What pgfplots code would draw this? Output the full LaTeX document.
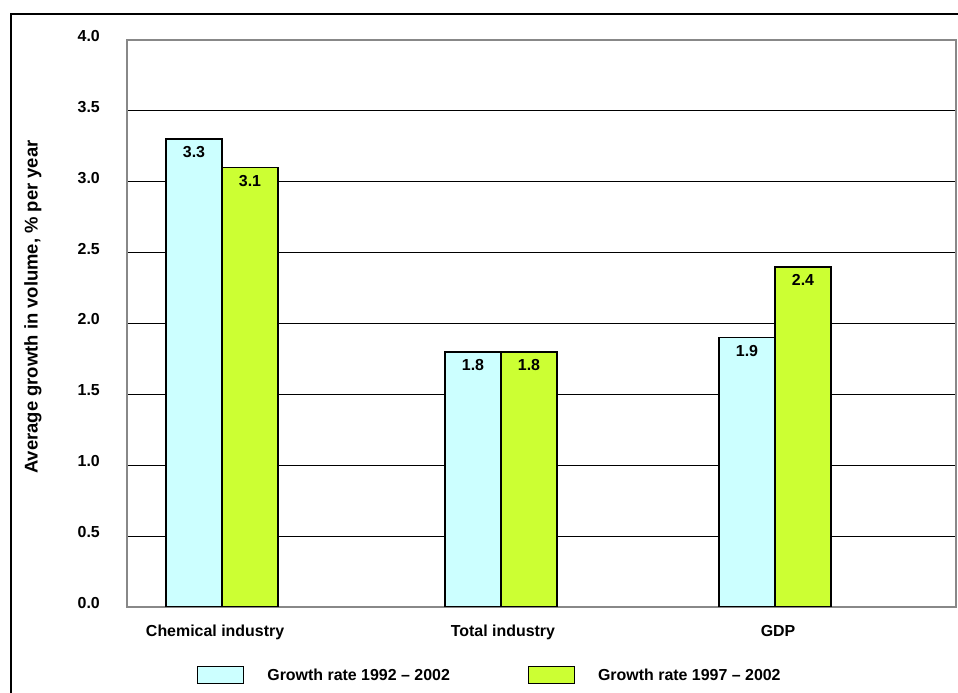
\documentclass[border=0pt]{standalone}
\usepackage{pgfplots}
\pgfplotsset{compat=1.18}
\usepackage{fontspec}
\setmainfont{Liberation Sans}
\definecolor{barcyan}{HTML}{CCFFFF}
\definecolor{bargreen}{HTML}{CCFF33}
\definecolor{framegrey}{HTML}{888888}

\begin{document}
\begin{tikzpicture}[x=1bp,y=1bp]
\useasboundingbox (-127,-86) rectangle (831,607);
\draw[line width=2bp] (-116,-140) rectangle (880,593);
\begin{axis}[
  at={(0,0)}, anchor=south west,
  scale only axis, width=829bp, height=567bp,
  xmin=-0.3436, xmax=2.6546, ymin=0, ymax=4,
  ytick={0,0.5,...,4},
  xtick={-0.025,1.016,2.011},
  xticklabels={Chemical industry,Total industry,GDP},
  major tick length=0pt,
  ymajorgrids,
  major grid style={black, line width=0.8bp},
  axis line style={framegrey, line width=2bp},
  /pgf/number format/assume math mode=true,
  tick label style={font=\fontsize{16}{19}\selectfont\bfseries},
  yticklabel style={/pgf/number format/.cd, fixed, fixed zerofill, precision=1, /tikz/.cd,
    anchor=east, inner sep=0pt, xshift=-27bp, yshift=4bp},
  xticklabel style={anchor=base, yshift=-30bp},
  ylabel={Average growth in volume, \% per year},
  ylabel style={at={(axis description cs:-0.1134,0.529)}, anchor=center,
    font=\fontsize{18.5}{22}\selectfont\bfseries},
  ybar=0pt, bar width=56bp,
  nodes near coords,
  nodes near coords style={/pgf/number format/.cd, fixed, fixed zerofill, precision=1, /tikz/.cd,
    font=\fontsize{16}{19}\selectfont\bfseries, anchor=center, yshift=-13bp},
  legend columns=2,
  legend image code/.code={\draw[#1, line width=1.2bp] (0bp,-8.5bp) rectangle (46bp,8.5bp);},
  legend style={at={(axis description cs:0.0844,-0.12)}, anchor=west, draw=none, fill=none,
    inner sep=0pt, font=\fontsize{16}{19}\selectfont\bfseries,
    nodes={inner sep=0pt},
    /tikz/every odd column/.append style={column sep=23bp},
    /tikz/every even column/.append style={column sep=78bp}},
]
\addplot[fill=barcyan, draw=black, line width=1.5bp] coordinates {(0,3.3) (1.009,1.8) (2.0,1.9)};
\addplot[fill=bargreen, draw=black, line width=1.5bp] coordinates {(0,3.1) (1.009,1.8) (2.0,2.4)};
\legend{Growth rate 1992 -- 2002, Growth rate 1997 -- 2002}
\end{axis}
\end{tikzpicture}
\end{document}
